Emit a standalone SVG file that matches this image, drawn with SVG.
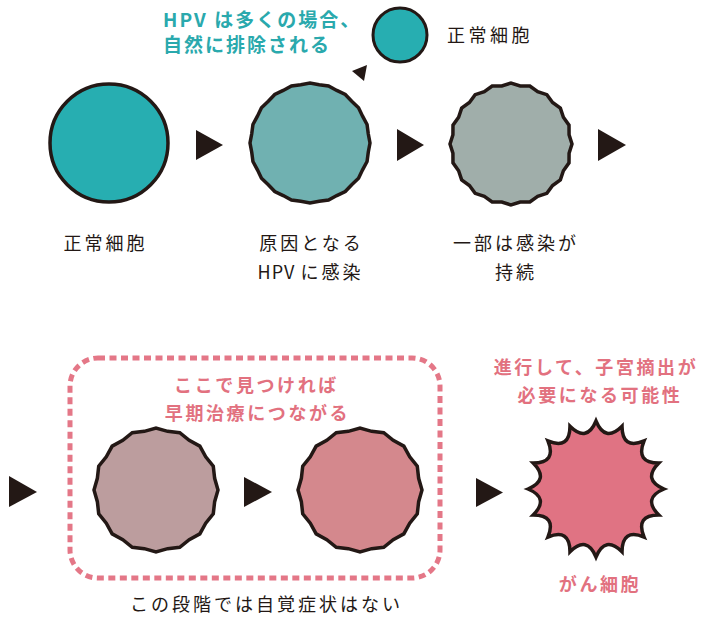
<svg xmlns="http://www.w3.org/2000/svg" xmlns:xlink="http://www.w3.org/1999/xlink" width="704" height="617" viewBox="0 0 704 617">
<style>
  .cell { stroke: #231815; stroke-width: 3.5; stroke-linejoin: miter; }
  .arrow { fill: #231815; }
  .lbl { font-family: "Noto Sans CJK JP", "Noto Sans", sans-serif; font-size: 18px; fill: #231815; letter-spacing: 3px; text-anchor: middle; }
  .teal { font-family: "Noto Sans CJK JP", "Noto Sans", sans-serif; font-size: 19px; font-weight: 700; fill: #2aa9ad; letter-spacing: 2px; }
  .pink { font-family: "Noto Sans CJK JP", "Noto Sans", sans-serif; font-size: 18px; font-weight: 700; fill: #e2717f; letter-spacing: 2.6px; text-anchor: middle; }
</style>
<defs>
  <polygon id="star20a" points="60,0 58.27,9.23 57.06,18.54 52.57,26.79 48.54,35.27 41.72,41.72 35.27,48.54 26.79,52.57 18.54,57.06 9.23,58.27 0,60 -9.23,58.27 -18.54,57.06 -26.79,52.57 -35.27,48.54 -41.72,41.72 -48.54,35.27 -52.57,26.79 -57.06,18.54 -58.27,9.23 -60,0 -58.27,-9.23 -57.06,-18.54 -52.57,-26.79 -48.54,-35.27 -41.72,-41.72 -35.27,-48.54 -26.79,-52.57 -18.54,-57.06 -9.23,-58.27 0,-60 9.23,-58.27 18.54,-57.06 26.79,-52.57 35.27,-48.54 41.72,-41.72 48.54,-35.27 52.57,-26.79 57.06,-18.54 58.27,-9.23"/>
  <polygon id="star20b" points="61,0 58.08,9.20 58.01,18.85 52.39,26.69 49.35,35.86 41.58,41.58 35.86,49.35 26.69,52.39 18.85,58.01 9.20,58.08 0,61 -9.20,58.08 -18.85,58.01 -26.69,52.39 -35.86,49.35 -41.58,41.58 -49.35,35.86 -52.39,26.69 -58.01,18.85 -58.08,9.20 -61,0 -58.08,-9.20 -58.01,-18.85 -52.39,-26.69 -49.35,-35.86 -41.58,-41.58 -35.86,-49.35 -26.69,-52.39 -18.85,-58.01 -9.20,-58.08 0,-61 9.20,-58.08 18.85,-58.01 26.69,-52.39 35.86,-49.35 41.58,-41.58 49.35,-35.86 52.39,-26.69 58.01,-18.85 58.08,-9.20"/>
  <polygon id="star16" points="62,0 58.65,11.67 57.28,23.73 49.72,33.22 43.84,43.84 33.22,49.72 23.73,57.28 11.67,58.65 0,62 -11.67,58.65 -23.73,57.28 -33.22,49.72 -43.84,43.84 -49.72,33.22 -57.28,23.73 -58.65,11.67 -62,0 -58.65,-11.67 -57.28,-23.73 -49.72,-33.22 -43.84,-43.84 -33.22,-49.72 -23.73,-57.28 -11.67,-58.65 0,-62 11.67,-58.65 23.73,-57.28 33.22,-49.72 43.84,-43.84 49.72,-33.22 57.28,-23.73 58.65,-11.67"/>
</defs>

<g id="note-hpv">
  <text class="teal" x="163" y="27">HPV は多くの場合、</text>
  <text class="teal" x="163" y="52">自然に排除される</text>
</g>

<g id="legend">
  <circle cx="400" cy="35" r="27" fill="#27aeb1" stroke="#231815" stroke-width="3"/>
  <text x="447" y="42" style="font-family:'Noto Sans CJK JP','Noto Sans',sans-serif;font-size:18px;fill:#231815;letter-spacing:3.5px">正常細胞</text>
</g>

<g id="node-normal">
  <circle class="cell" cx="109" cy="143" r="59" fill="#27aeb1"/>
  <text class="lbl" x="105.5" y="250">正常細胞</text>
</g>

<g id="node-infected">
  <use xlink:href="#star20a" href="#star20a" class="cell" transform="translate(310,143)" fill="#70b1b1"/>
  <text class="lbl" x="311.5" y="250">原因となる</text>
  <text class="lbl" x="310.5" y="279"><tspan style="letter-spacing:1px">HPV </tspan>に感染</text>
</g>

<g id="node-persistent">
  <use xlink:href="#star20b" href="#star20b" class="cell" transform="translate(511,144)" fill="#a0aeaa"/>
  <text class="lbl" x="516" y="250">一部は感染が</text>
  <text class="lbl" x="516" y="279">持続</text>
</g>

<g id="early-group">
  <rect x="70" y="358" width="370" height="220" rx="28" ry="28" fill="none" stroke="#e47787" stroke-width="5" stroke-dasharray="7 4.5"/>
  <text class="pink" x="256.5" y="392">ここで見つければ</text>
  <text class="pink" x="257.5" y="420">早期治療につながる</text>
  <text class="lbl" x="266.5" y="611">この段階では自覚症状はない</text>
</g>

<g id="node-dysplasia1">
  <use xlink:href="#star16" href="#star16" class="cell" transform="translate(156,490)" fill="#bc9d9e"/>
</g>

<g id="node-dysplasia2">
  <use xlink:href="#star16" href="#star16" class="cell" transform="translate(360,490)" fill="#d4888d"/>
</g>

<g id="node-cancer">
  <text class="pink" x="596" y="374">進行して、子宮摘出が</text>
  <text class="pink" x="600" y="402">必要になる可能性</text>
  <path class="cell" fill="#e07383" transform="translate(596,489)" d="M68,0 Q46.10,9.17 62.82,26.02 Q39.08,26.11 48.08,48.08 Q26.11,39.08 26.02,62.82 Q9.17,46.10 0,68 Q-9.17,46.10 -26.02,62.82 Q-26.11,39.08 -48.08,48.08 Q-39.08,26.11 -62.82,26.02 Q-46.10,9.17 -68,0 Q-46.10,-9.17 -62.82,-26.02 Q-39.08,-26.11 -48.08,-48.08 Q-26.11,-39.08 -26.02,-62.82 Q-9.17,-46.10 0,-68 Q9.17,-46.10 26.02,-62.82 Q26.11,-39.08 48.08,-48.08 Q39.08,-26.11 62.82,-26.02 Q46.10,-9.17 68,0 Z"/>
  <text class="pink" x="600" y="591">がん細胞</text>
</g>

<g id="connectors">
  <polygon class="arrow" points="352,71 367,65 364,81"/>
  <polygon class="arrow" points="196,130 223,145 196,160"/>
  <polygon class="arrow" points="397,129 424,145 397,161"/>
  <polygon class="arrow" points="598,129 626,145 598,161"/>
  <polygon class="arrow" points="9,476 37,492 9,507"/>
  <polygon class="arrow" points="244,477 272,492 244,507"/>
  <polygon class="arrow" points="476,478 503,492.5 476,507"/>
</g>
</svg>
